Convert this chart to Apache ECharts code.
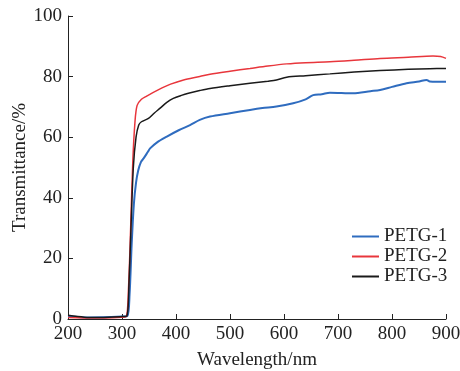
<!DOCTYPE html>
<html>
<head>
<meta charset="utf-8">
<script src="https://cdn.jsdelivr.net/npm/echarts@6/dist/echarts.min.js"></script>
<style>
  html, body { margin: 0; padding: 0; background: #fff; }
  #main { width: 460px; height: 371px; }
</style>
</head>
<body>
<div id="main"></div>
<script>
// [wavelength nm, transmittance %]
var petg1 = [[200,0.9],[240,0.5],[300,0.8],[310,1],[314,8],[318,25],[322,38],[326,45],[330,49],[335,51.8],[340,53],[348,55.2],[352,56.3],[365,58.3],[383,60.2],[405,62.3],[426,64],[444,65.7],[463,66.8],[500,67.9],[537,69],[560,69.6],[586,70.1],[617,71.2],[640,72.5],[654,73.9],[670,74.2],[685,74.7],[728,74.5],[760,75.2],[778,75.6],[800,76.6],[827,77.8],[850,78.4],[864,78.9],[870,78.4],[900,78.3]];
var petg2 = [[200,0.5],[250,0.3],[300,0.6],[308,0.8],[312,10],[316,30],[320,52],[324,65],[328,70.5],[336,72.5],[345,73.5],[367,75.6],[390,77.5],[414,78.9],[444,80],[463,80.8],[500,81.8],[537,82.7],[570,83.5],[605,84.2],[640,84.6],[685,84.9],[730,85.4],[778,86],[830,86.4],[876,86.8],[890,86.6],[900,86]];
var petg3 = [[200,1.2],[230,0.6],[260,0.5],[300,0.8],[309,1],[313,12],[317,32],[321,50],[326,60],[331,64],[336,65.1],[349,66.2],[360,68],[370,69.5],[383,71.5],[395,72.8],[410,73.8],[423,74.5],[444,75.4],[463,76.1],[500,77],[537,77.8],[570,78.5],[586,78.9],[605,79.8],[640,80.3],[685,80.9],[730,81.5],[778,82],[830,82.4],[870,82.6],[900,82.7]];
var seriesNames = ['PETG-1', 'PETG-2', 'PETG-3'];
var seriesColors = ['#2f6cbf', '#e8363c', '#1a1a1a'];

var font = 'Liberation Serif';
var myChart = echarts.init(document.getElementById('main'));
var axisCommon = {
    axisLine: { lineStyle: { color: '#222', width: 1 } },
    axisTick: { inside: true, length: 5, lineStyle: { color: '#222' } },
    axisLabel: { color: '#222', fontFamily: font, fontSize: 19 },
    splitLine: { show: false },
    nameMoveOverlap: false,
    nameTextStyle: { color: '#222', fontFamily: font, fontSize: 19 }
};
myChart.setOption({
    animation: false,
    grid: { left: 68, right: 14, top: 16, bottom: 52, outerBoundsMode: 'none', containLabel: false },
    legend: {
        orient: 'vertical',
        left: 347,
        top: 222,
        itemWidth: 27,
        itemHeight: 2,
        itemGap: 1,
        icon: 'rect',
        textStyle: { fontFamily: font, fontSize: 19, color: '#222', lineHeight: 19 },
        data: seriesNames
    },
    xAxis: Object.assign({}, axisCommon, {
        type: 'value',
        min: 200, max: 900, interval: 100,
        name: 'Wavelength/nm',
        nameLocation: 'middle',
        nameGap: 32,
        axisLabel: Object.assign({}, axisCommon.axisLabel, { margin: 6 })
    }),
    yAxis: Object.assign({}, axisCommon, {
        type: 'value',
        min: 0, max: 100, interval: 20,
        name: 'Transmittance/%',
        nameLocation: 'middle',
        nameGap: 38,
        axisLabel: Object.assign({}, axisCommon.axisLabel, { margin: 6 })
    }),
    series: [
        { name: seriesNames[0], type: 'line', data: petg1, showSymbol: false, smooth: 0.3, color: seriesColors[0], lineStyle: { width: 2 } },
        { name: seriesNames[1], type: 'line', data: petg2, showSymbol: false, smooth: 0.3, color: seriesColors[1], lineStyle: { width: 1.5 } },
        { name: seriesNames[2], type: 'line', data: petg3, showSymbol: false, smooth: 0.3, color: seriesColors[2], lineStyle: { width: 1.5 } }
    ]
});
</script>
</body>
</html>
